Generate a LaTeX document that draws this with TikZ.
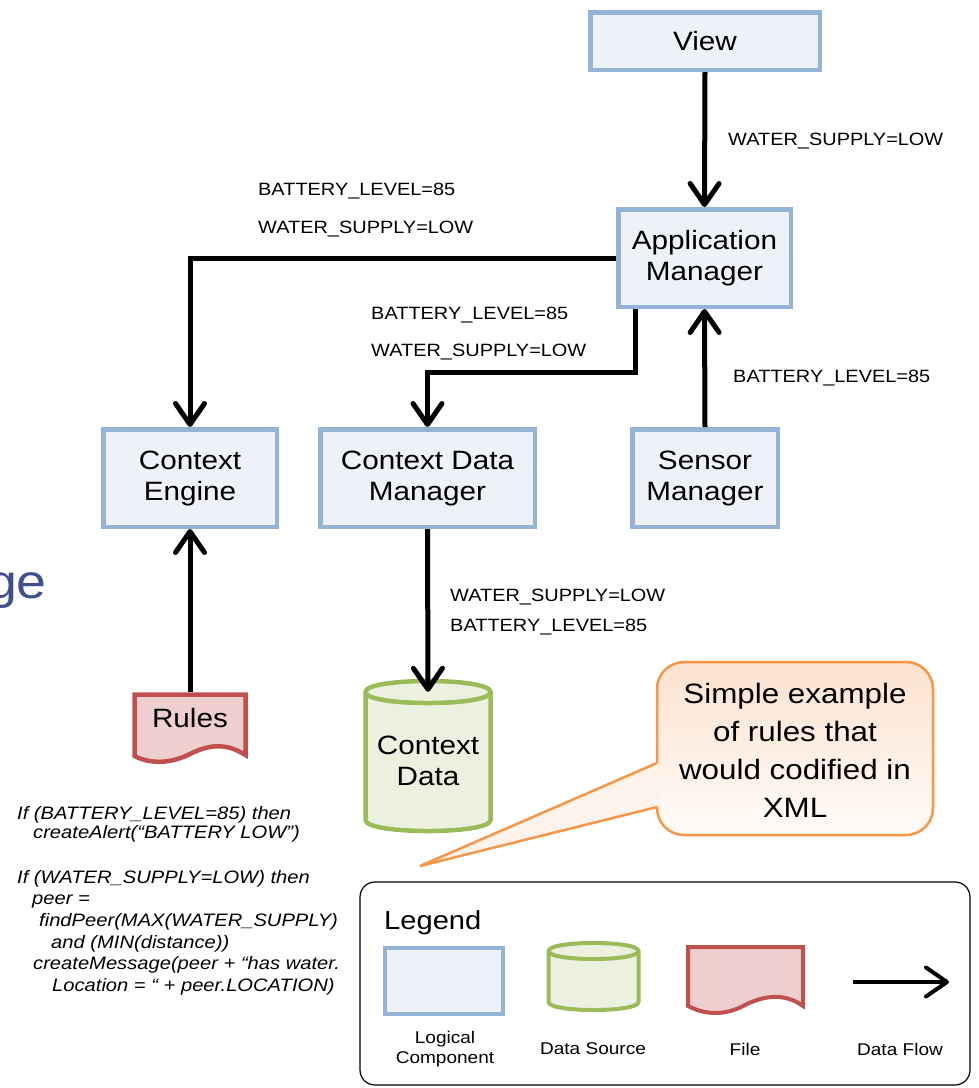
\documentclass[tikz,border=0pt]{standalone}
\usepackage{fontspec}
\setmainfont{Liberation Sans}[FakeStretch=1.12]
\usetikzlibrary{arrows.meta,calc}
\definecolor{boxfill}{RGB}{238,241,247}
\definecolor{boxline}{RGB}{149,179,215}
\definecolor{cylfill}{RGB}{235,241,222}
\definecolor{cylline}{RGB}{155,187,89}
\definecolor{filefill}{RGB}{238,206,206}
\definecolor{fileline}{RGB}{192,80,77}
\definecolor{callline}{RGB}{247,150,70}
\definecolor{calltop}{RGB}{252,226,206}
\definecolor{callbot}{RGB}{255,251,248}
\definecolor{tailfill}{RGB}{254,243,234}
\definecolor{titleblue}{RGB}{64,80,140}
\newcommand\bigtxt{\fontsize{26.5}{31}\selectfont}
\newcommand\lbltxt{\fontsize{17.8}{20}\selectfont}
\newcommand\legtxt{\fontsize{17}{20}\selectfont}
\tikzset{
  comp/.style={draw=boxline, fill=boxfill, line width=4.5pt, align=center, font=\bigtxt, inner sep=0pt},
  flow/.style={line width=5pt, -{Straight Barb[length=21pt,width=29pt,round]}},
  lbl/.style={anchor=base west, inner sep=0pt, font=\lbltxt},
  cylst/.style={draw=cylline, fill=cylfill, line width=4.5pt},
  filest/.style={draw=fileline, fill=filefill, line width=4.5pt},
  txtnode/.style={inner sep=0pt, align=center},
  leglabel/.style={inner sep=0pt, align=center, font=\legtxt},
}
\begin{document}
\begin{tikzpicture}[x=1pt,y=-1pt]
\useasboundingbox (0,0) rectangle (979,1088);
\clip (0,0) rectangle (979,1088);
\fill[white] (0,0) rectangle (979,1088);

% partial title text
\node[anchor=base east, inner sep=0pt, text=titleblue, font=\fontsize{48}{48}\selectfont] (ge) at (47,598) {ge};

% components
\node[comp, minimum width=229.5, minimum height=57.5] (view) at (705,41) {View};
\node[comp, minimum width=172.5, minimum height=97.5] (app) at (704.5,258) {Application\\Manager};
\node[comp, minimum width=173.5, minimum height=97.5] (ce) at (190,478) {Context\\Engine};
\node[comp, minimum width=214.5, minimum height=97.5] (cdm) at (427.5,478) {Context Data\\Manager};
\node[comp, minimum width=145.5, minimum height=97.5] (sm) at (705,478) {Sensor\\Manager};

% Context Data cylinder
\draw[cylst] (365.5,692) -- (365.5,820) .. controls (365.5,834.7) and (490.5,834.7) .. (490.5,820)
  -- (490.5,692) .. controls (490.5,677.3) and (365.5,677.3) .. cycle;
\draw[cylst, fill=none] (365.5,692) .. controls (365.5,706.7) and (490.5,706.7) .. (490.5,692);
\node[txtnode, font=\bigtxt, minimum width=125, minimum height=138] (cdata) at (428,761) {Context\\Data};

% Rules document
\draw[filest] (134.5,694.5) -- (245.5,694.5) -- (245.5,755) .. controls (225,742) and (208,745) .. (190,754)
  .. controls (170,764) and (150,764) .. (134.5,756) -- cycle;
\node[txtnode, font=\bigtxt, minimum width=111, minimum height=52] (rules) at (190,718) {Rules};

% connectors
\draw[flow] (view.south) -- (app.north);
\draw[flow] (app.west) -| (ce.north);
\draw[flow] ([xshift=19pt]app.south west) -- ++(0,63) -| (cdm.north);
\draw[flow] (sm.north) -- (app.south);
\draw[flow] (cdm.south) -- (cdata.north);
\draw[flow] (rules.north) -- (ce.south);

% labels
\node[lbl] (l1) at (728,145) {WATER\_SUPPLY=LOW};
\node[lbl] (l2) at (258,195) {BATTERY\_LEVEL=85};
\node[lbl] (l3) at (258,233) {WATER\_SUPPLY=LOW};
\node[lbl] (l4) at (371,319) {BATTERY\_LEVEL=85};
\node[lbl] (l5) at (371,356) {WATER\_SUPPLY=LOW};
\node[lbl] (l6) at (733,382) {BATTERY\_LEVEL=85};
\node[lbl] (l7) at (450,601) {WATER\_SUPPLY=LOW};
\node[lbl] (l8) at (450,631) {BATTERY\_LEVEL=85};

% rules text
\node[anchor=north west, inner sep=0pt, align=left, font=\fontsize{18}{21.6}\selectfont\itshape] (code) at (17,806)
{If (BATTERY\_LEVEL=85) then\\[-2.6pt]
\hspace*{16pt}createAlert(“BATTERY LOW”)\\[23.4pt]
If (WATER\_SUPPLY=LOW) then\\
\hspace*{15pt}peer =\\
\hspace*{22pt}findPeer(MAX(WATER\_SUPPLY)\\
\hspace*{34pt}and (MIN(distance))\\
\hspace*{16pt}createMessage(peer + “has water.\\
\hspace*{35pt}Location = “ + peer.LOCATION)};

% callout
\shade[top color=calltop, bottom color=callbot, rounded corners=27pt] (657,662) rectangle (933,835);
\draw[callline, line width=2.5pt, rounded corners=27pt] (657,662) rectangle (933,835);
\fill[tailfill] (420,866) -- (657,763) -- (661,763) -- (661,807) -- (657,807) -- cycle;
\draw[callline, line width=2.5pt] (657,763) -- (420,866) -- (657,807);
\node[txtnode, font=\fontsize{28}{38}\selectfont] (callout) at (795,750) {Simple example\\of rules that\\would codified in\\XML};

% legend
\node[draw, line width=1.2pt, rounded corners=15pt, minimum width=610, minimum height=203, inner sep=0pt] (legend) at (665,983.5) {};
\node[anchor=base west, inner sep=0pt, font=\fontsize{26}{30}\selectfont] (legtitle) at (384,929) {Legend};
\node[comp, line width=4pt, minimum width=118, minimum height=66] (legcomp) at (444,981) {};
\draw[cylst, line width=4pt] (548.5,951) -- (548.5,1002) .. controls (548.5,1012.7) and (638.5,1012.7) .. (638.5,1002)
  -- (638.5,951) .. controls (638.5,940.3) and (548.5,940.3) .. cycle;
\draw[cylst, line width=4pt, fill=none] (548.5,951) .. controls (548.5,961.7) and (638.5,961.7) .. (638.5,951);
\draw[filest, line width=4pt] (688,947) -- (803,947) -- (803,1006) .. controls (785,993) and (765,995) .. (745,1005)
  .. controls (725,1016) and (705,1015) .. (688,1006) -- cycle;
\coordinate (flowa) at (853,982);
\coordinate (flowb) at (949,982);
\draw[flow, line width=4pt] (flowa) -- (flowb);
\node[leglabel] (lc) at (445,1049) {Logical\\Component};
\node[leglabel] (ld) at (593,1049) {Data Source};
\node[leglabel] (lf) at (745,1049) {File};
\node[leglabel] (lflow) at (900,1049) {Data Flow};
\end{tikzpicture}
\end{document}
